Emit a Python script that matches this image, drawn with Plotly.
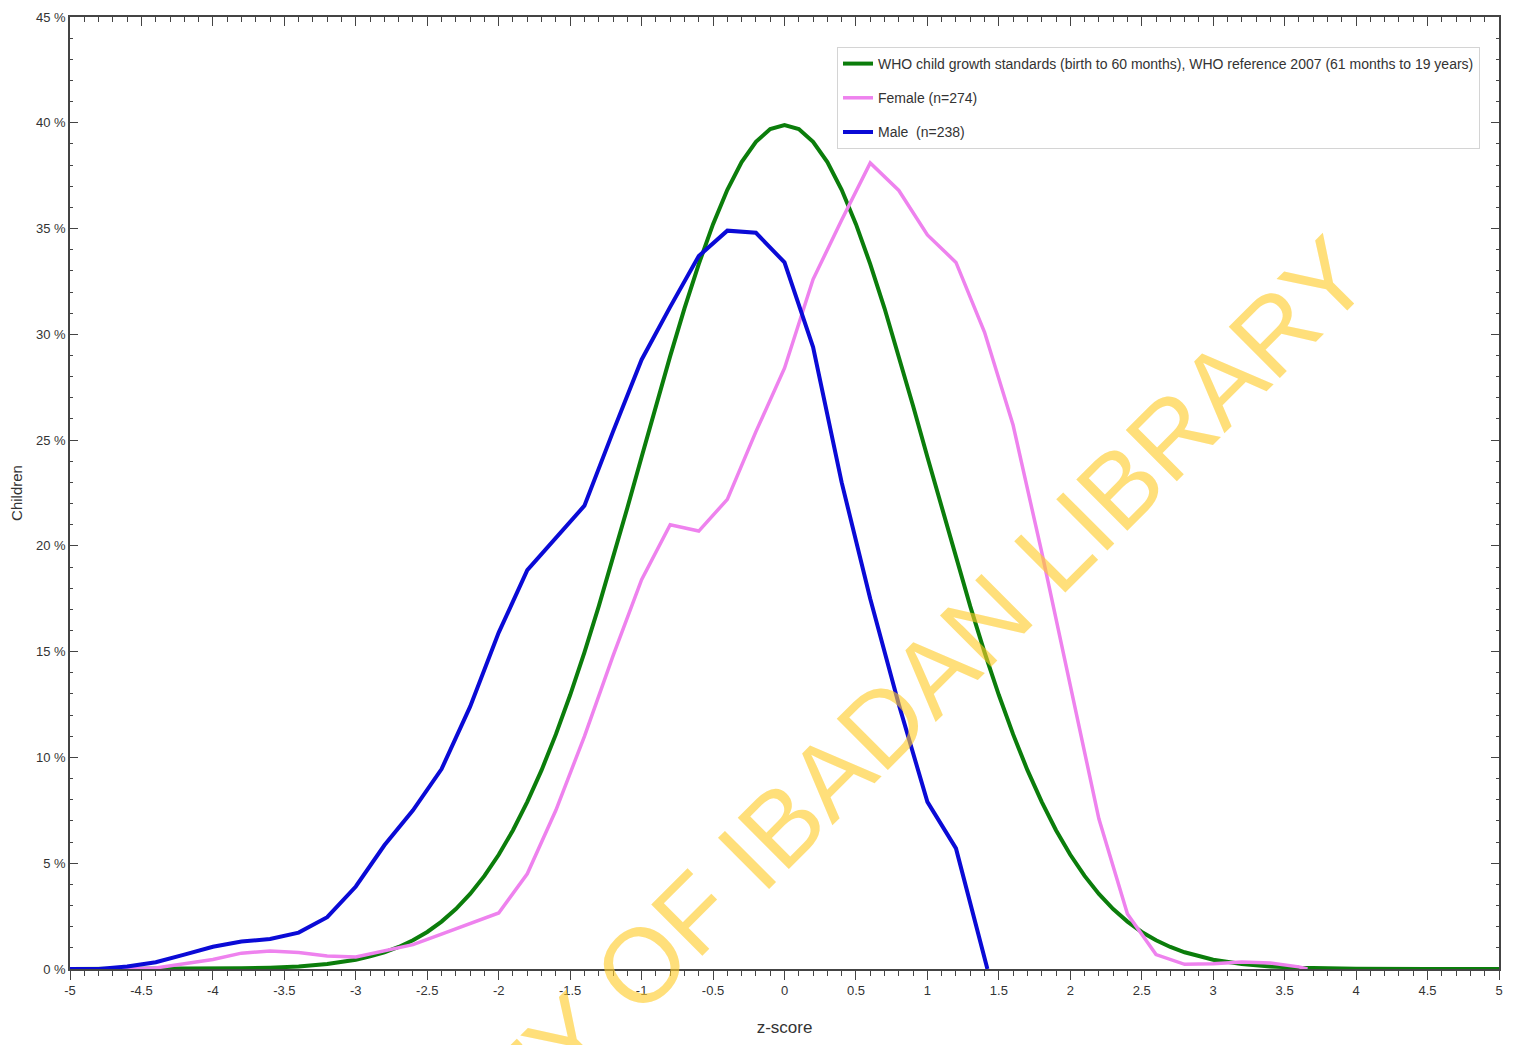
import plotly.graph_objects as go

# ---------------- data ----------------
who_z = [-5, -4.5, -4, -3.8, -3.6, -3.4, -3.2, -3.0, -2.9, -2.8, -2.7, -2.6, -2.5, -2.4, -2.3, -2.2,
         -2.1, -2.0, -1.9, -1.8, -1.7, -1.6, -1.5, -1.4, -1.3, -1.2, -1.1, -1.0, -0.9, -0.8,
         -0.7, -0.6, -0.5, -0.4, -0.3, -0.2, -0.1, 0.0, 0.1, 0.2, 0.3, 0.4, 0.5, 0.6, 0.7,
         0.8, 0.9, 1.0, 1.1, 1.2, 1.3, 1.4, 1.5, 1.6, 1.7, 1.8, 1.9, 2.0, 2.1, 2.2, 2.3,
         2.4, 2.5, 2.6, 2.7, 2.8, 2.9, 3.0, 3.2, 3.4, 3.6, 3.8, 4.0, 4.5, 5]
who_pct = [0.0, 0.0, 0.01, 0.03, 0.06, 0.12, 0.24, 0.44, 0.60, 0.79, 1.04, 1.36, 1.75, 2.24, 2.83, 3.55,
           4.40, 5.40, 6.56, 7.90, 9.40, 11.09, 12.95, 14.97, 17.14, 19.42, 21.79, 24.20, 26.61, 28.97,
           31.23, 33.32, 35.21, 36.83, 38.14, 39.10, 39.70, 39.89, 39.70, 39.10, 38.14, 36.83, 35.21, 33.32, 31.23,
           28.97, 26.61, 24.20, 21.79, 19.42, 17.14, 14.97, 12.95, 11.09, 9.40, 7.90, 6.56, 5.40, 4.40, 3.55, 2.83,
           2.24, 1.75, 1.36, 1.04, 0.79, 0.60, 0.44, 0.24, 0.12, 0.06, 0.03, 0.01, 0.0, 0.0]

female_z = [-5, -4.8, -4.6, -4.4, -4.2, -4.0, -3.8, -3.6, -3.4, -3.2, -3.0, -2.8, -2.6, -2.4, -2.2,
            -2.0, -1.8, -1.6, -1.4, -1.2, -1.0, -0.8, -0.6, -0.4, -0.2, 0.0, 0.2, 0.4, 0.6, 0.8,
            1.0, 1.2, 1.4, 1.6, 1.8, 2.0, 2.2, 2.4, 2.6, 2.8, 3.0, 3.2, 3.4, 3.6, 3.66]
female_pct = [0.0, 0.0, 0.0, 0.05, 0.25, 0.45, 0.75, 0.85, 0.78, 0.62, 0.57, 0.88, 1.15, 1.65, 2.15,
              2.65, 4.5, 7.5, 11.0, 14.8, 18.4, 21.0, 20.7, 22.2, 25.4, 28.4, 32.6, 35.4, 38.1, 36.8,
              34.7, 33.4, 30.1, 25.7, 19.7, 13.4, 7.1, 2.6, 0.68, 0.22, 0.25, 0.33, 0.28, 0.1, 0.0]

male_z = [-5, -4.8, -4.6, -4.4, -4.2, -4.0, -3.8, -3.6, -3.4, -3.2, -3.0, -2.8, -2.6, -2.4, -2.2,
          -2.0, -1.8, -1.6, -1.4, -1.2, -1.0, -0.8, -0.6, -0.4, -0.2, 0.0, 0.2, 0.4, 0.6, 0.8,
          1.0, 1.2, 1.42]
male_pct = [0.0, 0.0, 0.12, 0.32, 0.68, 1.05, 1.3, 1.42, 1.72, 2.45, 3.9, 5.85, 7.5, 9.45, 12.4,
            15.9, 18.85, 20.4, 21.9, 25.4, 28.8, 31.3, 33.7, 34.9, 34.8, 33.4, 29.4, 23.0, 17.5, 12.5,
            7.9, 5.7, 0.0]

x_ticks = [-5, -4.5, -4, -3.5, -3, -2.5, -2, -1.5, -1, -0.5, 0, 0.5, 1, 1.5, 2, 2.5, 3, 3.5, 4, 4.5, 5]
x_tick_text = ["-5", "-4.5", "-4", "-3.5", "-3", "-2.5", "-2", "-1.5", "-1", "-0.5", "0",
               "0.5", "1", "1.5", "2", "2.5", "3", "3.5", "4", "4.5", "5"]
y_ticks = [0, 5, 10, 15, 20, 25, 30, 35, 40, 45]
y_tick_text = ["0 %", "5 %", "10 %", "15 %", "20 %", "25 %", "30 %", "35 %", "40 %", "45 %"]

names = ["WHO child growth standards (birth to 60 months), WHO reference 2007 (61 months to 19 years)",
         "Female (n=274)", "Male  (n=238)"]
colors = ["#0b7d0b", "#ee82ee", "#0a0ad6"]
watermark = "UNIVERSITY OF IBADAN LIBRARY"

# ---------------- figure ----------------
FONT = "Liberation Sans Narrow, Liberation Sans, Arial, sans-serif"
fig = go.Figure()
fig.add_trace(go.Scatter(x=who_z, y=who_pct, mode="lines", name=names[0], legendgroup="a",
                         line=dict(color=colors[0], width=4)))
fig.add_trace(go.Scatter(x=female_z, y=female_pct, mode="lines", name=names[1], legendgroup="b",
                         line=dict(color=colors[1], width=3.5)))
fig.add_trace(go.Scatter(x=male_z, y=male_pct, mode="lines", name=names[2], legendgroup="c",
                         line=dict(color=colors[2], width=4)))
# helper trace so the top mirror axis is rendered
fig.add_trace(go.Scatter(x=[x_ticks[0], x_ticks[-1]], y=[y_ticks[0], y_ticks[0]], mode="lines",
                         xaxis="x2", showlegend=False, hoverinfo="skip",
                         line=dict(color="rgba(0,0,0,0)", width=0)))

axis_col = "#444444"
fig.update_layout(
    width=1507, height=1037,
    margin=dict(l=62, r=16, t=9, b=76, autoexpand=False),
    paper_bgcolor="white", plot_bgcolor="white",
    font=dict(family=FONT, size=13, color="#333333"),
    showlegend=True,
    legend=dict(x=0.9867, y=0.9685, xanchor="right", yanchor="top",
                bgcolor="white", bordercolor="#d4d4d4", borderwidth=1,
                font=dict(family=FONT, size=14, color="#333333"),
                tracegroupgap=13, itemwidth=30),
    xaxis=dict(range=[-5, 5], tickmode="array", tickvals=x_ticks, ticktext=x_tick_text,
               automargin=False,
               ticks="outside", ticklen=9, tickwidth=1.3, tickcolor=axis_col,
               minor=dict(dtick=0.1, tick0=0, ticks="outside", ticklen=5, tickwidth=1, tickcolor=axis_col),
               showline=True, linecolor=axis_col, linewidth=1.5, showgrid=False, zeroline=False,
               tickfont=dict(family=FONT, size=13, color="#333333"),
               title=dict(text="z-score", font=dict(family=FONT, size=17, color="#333333"), standoff=24)),
    xaxis2=dict(range=[-5, 5], overlaying="x", side="top", tickmode="array", tickvals=x_ticks,
                automargin=False,
                showticklabels=False, ticks="inside", ticklen=9, tickwidth=1.3, tickcolor=axis_col,
                minor=dict(dtick=0.1, tick0=0, ticks="inside", ticklen=5, tickwidth=1, tickcolor=axis_col),
                showline=True, linecolor=axis_col, linewidth=1.5, showgrid=False, zeroline=False),
    yaxis=dict(range=[0, 45], tickmode="array", tickvals=y_ticks, ticktext=y_tick_text,
               automargin=False,
               ticks="inside", ticklen=8, tickwidth=1.3, tickcolor=axis_col, mirror="ticks",
               minor=dict(dtick=1, tick0=0, ticks="inside", ticklen=3, tickwidth=1, tickcolor=axis_col),
               showline=True, linecolor=axis_col, linewidth=1.5, showgrid=False, zeroline=False,
               tickfont=dict(family=FONT, size=13, color="#333333"),
               title=dict(text="Children", font=dict(family="Liberation Sans, Arial, sans-serif",
                                                      size=15, color="#333333"), standoff=10)),
)

fig.add_annotation(text=watermark, xref="paper", yref="paper", x=0.475, y=0.117,
                   xanchor="center", yanchor="middle",
                   showarrow=False, textangle=-45,
                   font=dict(family="Liberation Sans, Arial, sans-serif", size=105,
                             color="rgba(255,204,40,0.62)"))

fig.write_html("out.html")
